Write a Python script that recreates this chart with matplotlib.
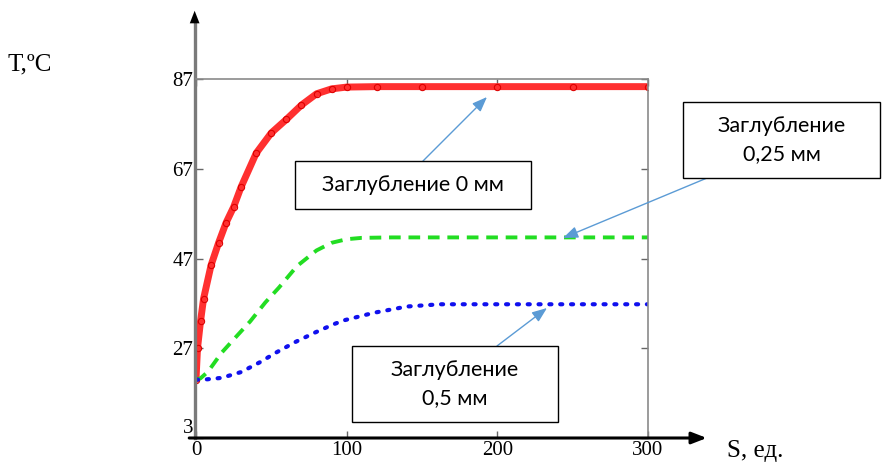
import matplotlib
matplotlib.use('Agg')
import matplotlib.pyplot as plt

plt.rcParams['font.family'] = 'Liberation Serif'

# data
s_red = [0, 1, 3, 5, 10, 15, 20, 25, 30, 40, 50, 60, 70, 80, 90, 100, 120, 150, 200, 250, 300]
t_red = [20, 27, 33, 38, 45.5, 50.5, 55, 58.5, 63, 70.5, 75, 78, 81.2, 83.7, 84.8, 85.2, 85.3, 85.3, 85.3, 85.3, 85.3]

s_green = [0, 3, 8, 17, 27, 36, 46, 55, 67, 80, 90, 100, 110, 130, 150, 200, 250, 300]
t_green = [20, 20.3, 21.8, 26, 29.7, 33, 37.2, 40.5, 45.3, 48.8, 50.5, 51.3, 51.6, 51.7, 51.7, 51.7, 51.7, 51.7]

s_blue = [0, 5, 17, 30, 42.5, 53.5, 66, 79, 91, 98, 118, 140, 162, 200, 250, 300]
t_blue = [20, 20, 20.4, 21.7, 23.9, 26.1, 28.4, 30.5, 32.3, 33.2, 34.9, 36.3, 36.8, 36.8, 36.8, 36.8]

xticks = [0, 100, 200, 300]
yticks = [7, 27, 47, 67, 87]
ytick_labels = ['3', '27', '47', '67', '87']

labels = ['Заглубление 0 мм', 'Заглубление\n0,25 мм', 'Заглубление\n0,5 мм']

fig = plt.figure(figsize=(8.83, 4.63), dpi=100)
ax = fig.add_axes([196/883, 1-438/463, 452/883, 359/463])

ax.plot(s_red, t_red, color='#ff3030', lw=5, solid_capstyle='round')
ax.plot(s_red, t_red, color='#dd0000', lw=0, marker='o', ms=4.5, mfc='none', mew=0.8)
ax.plot(s_green, t_green, color='#22dd22', lw=2.8, linestyle=(0, (3, 2)))
ax.plot(s_blue, t_blue, color='#1010ee', lw=3, linestyle=(0, (0.5, 2.1)),
        dash_capstyle='round')

ax.set_xlim(0, 300)
ax.set_ylim(7, 87)
ax.set_xticks(xticks)
ax.set_yticks(yticks)
ax.set_yticklabels(ytick_labels)
ax.tick_params(direction='in', top=True, right=True, length=5, width=1,
               color='#666666', labelsize=15, pad=2)
ax.get_yticklabels()[0].set_va('bottom')
for sp in ax.spines.values():
    sp.set_color('#8a8a8a')
    sp.set_linewidth(1.2)
ax.spines['left'].set_visible(False)
ax.spines['bottom'].set_visible(False)

# axis arrows
ax.annotate('', xy=(1.13, 0), xytext=(-0.015, 0), xycoords='axes fraction',
            arrowprops=dict(arrowstyle='-|>,head_length=0.9,head_width=0.35',
                            color='black', lw=2.2, shrinkA=0, shrinkB=0))
ax.plot([-0.003, -0.003], [0, 1.16], transform=ax.transAxes, color='#7a7a7a',
        lw=2.4, clip_on=False)
ax.annotate('', xy=(-0.003, 1.19), xytext=(-0.003, 1.1), xycoords='axes fraction',
            arrowprops=dict(arrowstyle='-|>,head_length=0.9,head_width=0.35',
                            color='black', lw=0.01, shrinkA=0, shrinkB=0))

fig.text(8/883, 1-70/463, 'T,ºC', fontsize=18)
fig.text(727/883, 1-457/463, 'S, ед.', fontsize=18)

# callout boxes with arrows
acol = '#5b9bd5'
def callout(text, x0, y0, x1, y1, tail, head):
    fig.patches.append(plt.Rectangle((x0/883, 1-y1/463), (x1-x0)/883, (y1-y0)/463,
                                     transform=fig.transFigure, fc='white',
                                     ec='black', lw=1, zorder=5))
    fig.text((x0+x1)/2/883, 1-(y0+y1)/2/463, text, ha='center', va='center',
             fontsize=15.5, family='Lato', linespacing=1.45, zorder=6)
    ax.annotate('', xy=(head[0]/883, 1-head[1]/463),
                xytext=(tail[0]/883, 1-tail[1]/463),
                xycoords='figure fraction', textcoords='figure fraction',
                arrowprops=dict(arrowstyle='-|>,head_length=0.9,head_width=0.35',
                                color=acol, lw=1, shrinkA=0, shrinkB=0),
                zorder=7)

callout(labels[0], 295, 161, 531, 209, (423, 161), (487, 97))
callout(labels[1], 683, 102, 880, 178, (707, 178), (563, 238))
callout(labels[2], 352, 346, 558, 422, (497, 346), (547, 308))

fig.savefig('out.png', dpi=100)
